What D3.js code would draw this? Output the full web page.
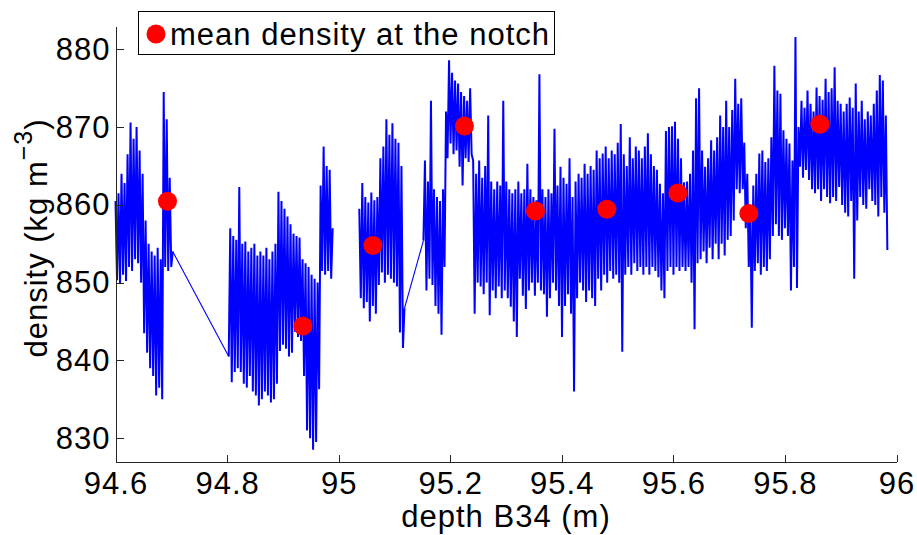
<!DOCTYPE html>
<html>
<head>
<meta charset="utf-8">
<script src="https://cdn.jsdelivr.net/npm/d3@7"></script>
<style>
  html, body { margin: 0; padding: 0; background: #fff; }
  svg { display: block; }
  text { font-family: "Liberation Sans", Arial, Helvetica, sans-serif; fill: #000; }
</style>
</head>
<body>
<svg id="chart" width="917" height="535"></svg>
<script>
// ---------- data ----------
// density trace: [depth (m), density (kg m^-3)]; A+B joined, C+D joined, no data between B and C
const segmentA = [
  [94.6000,860.5],[94.6027,850.3],[94.6054,861.5],[94.6081,849.9],[94.6108,864.0],[94.6135,851.0],
  [94.6162,862.8],[94.6189,850.2],[94.6216,866.5],[94.6243,852.0],[94.6270,870.6],[94.6297,851.5],
  [94.6324,868.5],[94.6351,853.0],[94.6378,870.0],[94.6405,852.5],[94.6432,867.0],[94.6459,850.0],
  [94.6486,864.0],[94.6513,843.5],[94.6540,858.0],[94.6567,841.0],[94.6594,855.0],[94.6621,839.0],
  [94.6648,854.0],[94.6675,838.0],[94.6702,853.5],[94.6729,835.5],[94.6756,854.5],[94.6783,836.5],
  [94.6810,853.0],[94.6837,835.0],[94.6864,874.5],[94.6891,852.0],[94.6918,871.0],[94.6945,851.5],
  [94.6972,863.5],[94.6999,852.0],[94.7026,854.0]
];
const segmentB = [
  [94.8030,840.5],[94.8057,857.0],[94.8084,837.2],[94.8111,856.0],[94.8138,838.5],[94.8165,855.5],
  [94.8192,839.0],[94.8219,862.3],[94.8246,838.5],[94.8273,855.0],[94.8300,837.0],[94.8327,855.3],
  [94.8354,836.5],[94.8381,854.0],[94.8408,838.0],[94.8435,854.5],[94.8462,836.0],[94.8489,855.0],
  [94.8516,835.5],[94.8543,853.5],[94.8570,834.2],[94.8597,854.0],[94.8624,835.0],[94.8651,853.5],
  [94.8678,836.0],[94.8705,854.5],[94.8732,835.5],[94.8759,853.0],[94.8786,834.6],[94.8813,854.0],
  [94.8840,835.0],[94.8867,855.0],[94.8894,837.0],[94.8921,861.7],[94.8948,841.2],[94.8975,860.5],
  [94.9002,842.0],[94.9029,859.5],[94.9056,841.5],[94.9083,858.5],[94.9110,840.5],[94.9137,857.5],
  [94.9164,841.0],[94.9191,856.3],[94.9218,843.7],[94.9245,856.0],[94.9272,843.0],[94.9299,855.8],
  [94.9326,842.5],[94.9353,853.0],[94.9380,838.0],[94.9407,852.5],[94.9434,831.0],[94.9461,852.0],
  [94.9488,830.0],[94.9515,851.0],[94.9542,828.5],[94.9569,850.5],[94.9596,829.5],[94.9623,850.0],
  [94.9650,836.3],[94.9677,862.5],[94.9704,851.5],[94.9731,867.5],[94.9758,851.0],[94.9785,865.0],
  [94.9812,851.5],[94.9839,864.5],[94.9866,850.5],[94.9893,857.0]
];
const segmentC = [
  [95.0370,859.5],[95.0397,848.0],[95.0424,862.8],[95.0451,846.7],[95.0478,861.0],[95.0505,847.5],
  [95.0532,860.3],[95.0559,845.0],[95.0586,861.6],[95.0613,847.0],[95.0640,860.6],[95.0667,846.0],
  [95.0694,861.0],[95.0721,849.7],[95.0748,866.0],[95.0775,851.3],[95.0802,867.5],[95.0829,850.0],
  [95.0856,871.0],[95.0883,851.0],[95.0910,869.0],[95.0937,850.5],[95.0964,870.5],[95.0991,850.0],
  [95.1018,868.5],[95.1045,849.5],[95.1072,868.0],[95.1099,843.6],[95.1126,865.0],[95.1153,841.6],
  [95.1180,846.7]
];
const segmentD = [
  [95.1520,855.4],[95.1547,865.7],[95.1574,849.0],[95.1601,863.0],[95.1628,850.5],[95.1655,873.4],
  [95.1682,849.7],[95.1709,862.0],[95.1736,847.0],[95.1763,861.0],[95.1790,846.0],[95.1817,860.5],
  [95.1844,843.3],[95.1871,862.0],[95.1898,852.0],[95.1925,872.0],[95.1952,866.0],[95.1979,878.6],
  [95.2006,867.9],[95.2033,877.0],[95.2060,866.5],[95.2087,876.0],[95.2114,867.0],[95.2141,875.6],
  [95.2168,864.9],[95.2195,874.5],[95.2222,862.5],[95.2249,874.0],[95.2276,866.0],[95.2303,873.4],
  [95.2330,865.5],[95.2357,875.0],[95.2384,866.5],[95.2411,865.7],[95.2438,846.0],[95.2465,864.0],
  [95.2492,850.0],[95.2519,865.7],[95.2546,849.5],[95.2573,863.5],[95.2600,848.5],[95.2627,865.0],
  [95.2654,850.0],[95.2681,871.5],[95.2708,845.8],[95.2735,863.0],[95.2762,849.0],[95.2789,862.0],
  [95.2816,848.0],[95.2843,863.0],[95.2870,849.5],[95.2897,862.5],[95.2924,848.0],[95.2951,873.4],
  [95.2978,849.0],[95.3005,863.0],[95.3032,848.0],[95.3059,862.0],[95.3086,846.9],[95.3113,861.5],
  [95.3140,845.0],[95.3167,862.0],[95.3194,843.0],[95.3221,863.0],[95.3248,850.5],[95.3275,861.5],
  [95.3302,848.3],[95.3329,862.0],[95.3356,846.6],[95.3383,865.3],[95.3410,849.0],[95.3437,862.0],
  [95.3464,850.0],[95.3491,861.0],[95.3518,848.3],[95.3545,860.6],[95.3572,850.0],[95.3599,876.8],
  [95.3626,849.0],[95.3653,862.0],[95.3680,848.5],[95.3707,861.0],[95.3734,845.6],[95.3761,862.0],
  [95.3788,848.0],[95.3815,861.5],[95.3842,850.0],[95.3869,869.8],[95.3896,849.0],[95.3923,862.5],
  [95.3950,847.0],[95.3977,864.9],[95.4004,843.0],[95.4031,863.5],[95.4058,847.0],[95.4085,862.7],
  [95.4112,848.5],[95.4139,866.0],[95.4166,846.0],[95.4193,861.0],[95.4220,836.0],[95.4247,863.0],
  [95.4274,848.0],[95.4301,864.0],[95.4328,850.0],[95.4355,863.5],[95.4382,849.0],[95.4409,865.3],
  [95.4436,847.5],[95.4463,864.0],[95.4490,849.0],[95.4517,865.0],[95.4544,848.0],[95.4571,864.5],
  [95.4598,847.0],[95.4625,867.0],[95.4652,850.5],[95.4679,866.0],[95.4706,849.0],[95.4733,866.6],
  [95.4760,851.0],[95.4787,867.5],[95.4814,850.0],[95.4841,866.0],[95.4868,851.5],[95.4895,867.0],
  [95.4922,850.5],[95.4949,866.5],[95.4976,851.0],[95.5003,868.0],[95.5030,850.0],[95.5057,870.4],
  [95.5084,841.1],[95.5111,866.5],[95.5138,851.0],[95.5165,865.0],[95.5192,852.0],[95.5219,868.7],
  [95.5246,851.0],[95.5273,866.0],[95.5300,852.5],[95.5327,867.5],[95.5354,851.5],[95.5381,867.0],
  [95.5408,852.0],[95.5435,866.0],[95.5462,851.0],[95.5489,867.5],[95.5516,852.0],[95.5543,869.2],
  [95.5570,851.0],[95.5597,866.5],[95.5624,852.0],[95.5651,865.0],[95.5678,851.5],[95.5705,864.5],
  [95.5732,850.7],[95.5759,862.7],[95.5786,849.0],[95.5813,861.5],[95.5840,848.0],[95.5867,869.5],
  [95.5894,851.5],[95.5921,870.0],[95.5948,852.0],[95.5975,870.1],[95.6002,851.0],[95.6029,870.7],
  [95.6056,852.0],[95.6083,868.5],[95.6110,851.5],[95.6137,866.0],[95.6164,852.0],[95.6191,862.9],
  [95.6218,851.5],[95.6245,863.0],[95.6272,852.0],[95.6299,864.0],[95.6326,850.0],[95.6353,867.0],
  [95.6380,844.0],[95.6407,873.7],[95.6434,852.5],[95.6461,875.0],[95.6488,853.0],[95.6515,867.0],
  [95.6542,854.0],[95.6569,864.9],[95.6596,852.5],[95.6623,866.0],[95.6650,854.5],[95.6677,868.3],
  [95.6704,853.0],[95.6731,867.0],[95.6758,855.0],[95.6785,868.7],[95.6812,853.0],[95.6839,871.5],
  [95.6866,855.0],[95.6893,870.0],[95.6920,853.5],[95.6947,873.4],[95.6974,855.5],[95.7001,870.0],
  [95.7028,856.0],[95.7055,872.2],[95.7082,858.0],[95.7109,876.2],[95.7136,862.0],[95.7163,873.0],
  [95.7190,861.5],[95.7217,873.7],[95.7244,862.0],[95.7271,868.0],[95.7298,857.0],[95.7325,864.0],
  [95.7352,852.0],[95.7379,860.0],[95.7406,844.2],[95.7433,862.5],[95.7460,851.5],[95.7487,864.0],
  [95.7514,852.5],[95.7541,866.6],[95.7568,851.0],[95.7595,867.0],[95.7622,852.0],[95.7649,865.5],
  [95.7676,851.5],[95.7703,866.0],[95.7730,853.0],[95.7757,868.7],[95.7784,856.0],[95.7811,877.9],
  [95.7838,857.5],[95.7865,874.7],[95.7892,856.0],[95.7919,874.3],[95.7946,855.5],[95.7973,869.6],
  [95.8000,857.0],[95.8027,868.5],[95.8054,856.0],[95.8081,867.9],[95.8108,849.0],[95.8135,865.7],
  [95.8162,852.0],[95.8189,881.6],[95.8216,849.3],[95.8243,870.0],[95.8270,864.9],[95.8297,873.4],
  [95.8324,863.5],[95.8351,872.5],[95.8378,864.5],[95.8405,874.7],[95.8432,863.2],[95.8459,873.0],
  [95.8486,862.0],[95.8513,872.0],[95.8540,861.5],[95.8567,875.1],[95.8594,862.0],[95.8621,874.0],
  [95.8648,860.5],[95.8675,873.5],[95.8702,862.0],[95.8729,876.2],[95.8756,861.0],[95.8783,874.5],
  [95.8810,860.2],[95.8837,875.0],[95.8864,861.0],[95.8891,877.7],[95.8918,860.5],[95.8945,873.4],
  [95.8972,862.3],[95.8999,873.0],[95.9026,860.0],[95.9053,872.0],[95.9080,859.0],[95.9107,873.0],
  [95.9134,858.5],[95.9161,873.8],[95.9188,860.5],[95.9215,872.5],[95.9242,850.5],[95.9269,875.6],
  [95.9296,858.0],[95.9323,872.0],[95.9350,861.0],[95.9377,873.4],[95.9404,860.0],[95.9431,871.0],
  [95.9458,859.5],[95.9485,872.0],[95.9512,862.0],[95.9539,871.5],[95.9566,860.5],[95.9593,873.0],
  [95.9620,860.0],[95.9647,874.7],[95.9674,858.5],[95.9701,876.7],[95.9728,861.0],[95.9755,876.0],
  [95.9782,859.0],[95.9809,871.5],[95.9836,854.2]
];
// mean density at the notch (red dots)
const notchDepth   = [94.6932, 94.9359, 95.0614, 95.2255, 95.3528, 95.4808, 95.6080, 95.7353, 95.8626];
const notchDensity = [860.46, 844.43, 854.77, 870.14, 859.22, 859.43, 861.53, 858.88, 870.36];
// axes
const xTicks = [94.6, 94.8, 95, 95.2, 95.4, 95.6, 95.8, 96];
const yTicks = [830, 840, 850, 860, 870, 880];
const xDomain = [94.6, 96];
const yDomain = [827, 883];
const xLabel = "depth B34 (m)";
const legendLabel = "mean density at the notch";

// ---------- layout ----------
const L = 115.5, R = 896.5, T = 26, B = 461.5;
const FS = 31, LS = "1px";

const svg = d3.select("#chart");
const x = d3.scaleLinear().domain(xDomain).range([L, R]);
const y = d3.scaleLinear().domain(yDomain).range([B, T]);

// traces: dense sampled runs drawn thicker, the joins across missing stretches drawn thin
const line = d3.line().x(d => x(d[0])).y(d => y(d[1]));
const joins = [
  [segmentA[segmentA.length - 1], segmentB[0]],
  [segmentC[segmentC.length - 1], segmentD[0]]
];
svg.append("g").selectAll("path").data(joins).join("path")
  .attr("d", line).attr("fill", "none").attr("stroke", "#0000ff").attr("stroke-width", 1.1);
svg.append("g").selectAll("path").data([segmentA, segmentB, segmentC, segmentD]).join("path")
  .attr("d", line)
  .attr("fill", "none")
  .attr("stroke", "#0000ff")
  .attr("stroke-width", 2)
  .attr("stroke-linejoin", "miter")
  .attr("stroke-miterlimit", 1.5);

// notch means
const notches = notchDepth.map((d, i) => [d, notchDensity[i]]);
svg.append("g").selectAll("circle").data(notches).join("circle")
  .attr("cx", d => x(d[0])).attr("cy", d => y(d[1])).attr("r", 9.5)
  .attr("fill", "#ff0000");

// axes
const xAxis = d3.axisBottom(x).tickValues(xTicks).tickFormat(d3.format("~g"))
  .tickSizeInner(-7).tickSizeOuter(0).tickPadding(10);
const gx = svg.append("g").attr("transform", `translate(0,${B})`).call(xAxis);
const yAxis = d3.axisLeft(y).tickValues(yTicks).tickFormat(d3.format("d"))
  .tickSizeInner(-8).tickSizeOuter(0).tickPadding(5);
const gy = svg.append("g").attr("transform", `translate(${L},0)`).call(yAxis);
[gx, gy].forEach(g => {
  g.select(".domain").attr("stroke", "#262626").attr("stroke-width", 1).attr("shape-rendering", "crispEdges");
  g.selectAll(".tick line").attr("stroke", "#262626").attr("shape-rendering", "crispEdges");
  g.selectAll(".tick text").attr("font-size", FS).attr("letter-spacing", LS)
    .attr("font-family", "'Liberation Sans', Arial, sans-serif").attr("fill", "#000");
});

// x label
svg.append("text").attr("x", (L + R) / 2).attr("y", 527).attr("text-anchor", "middle")
  .attr("font-size", FS).attr("letter-spacing", LS).text(xLabel);

// y label with superscript
const yl = svg.append("text").attr("transform", "translate(47,238) rotate(-90)")
  .attr("text-anchor", "middle").attr("font-size", FS).attr("letter-spacing", LS);
yl.append("tspan").text("density (kg m");
yl.append("tspan").attr("font-size", 25).attr("dy", -15).text("\u22123");
yl.append("tspan").attr("dy", 15).text(")");

// legend
const lg = svg.append("g");
lg.append("rect").attr("x", 138.5).attr("y", 11.5).attr("width", 416).attr("height", 43)
  .attr("fill", "#fff").attr("stroke", "#000").attr("stroke-width", 1);
lg.append("circle").attr("cx", 156).attr("cy", 34).attr("r", 9.5).attr("fill", "#ff0000");
lg.append("text").attr("x", 170).attr("y", 44.5).attr("font-size", FS).attr("letter-spacing", LS)
  .text(legendLabel);
</script>
</body>
</html>
